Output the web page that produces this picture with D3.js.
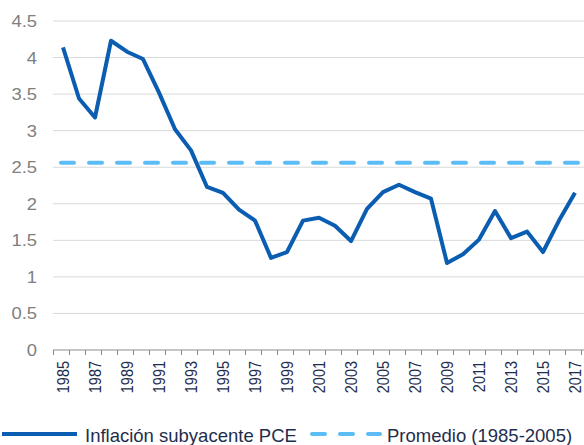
<!DOCTYPE html>
<html>
<head>
<meta charset="utf-8">
<script src="https://cdn.jsdelivr.net/npm/d3@7"></script>
<style>
  body { margin: 0; background: #fff; }
  svg { font-family: "Liberation Sans", Arial, sans-serif; }
</style>
</head>
<body>
<div id="chart"></div>
<script>
// data
const years = d3.range(1985, 2018);
const corePCE = [4.14, 3.44, 3.18, 4.23, 4.08, 3.98, 3.52, 3.02, 2.73, 2.23,
                 2.15, 1.92, 1.77, 1.26, 1.34, 1.77, 1.81, 1.70, 1.49, 1.93,
                 2.16, 2.26, 2.16, 2.07, 1.19, 1.31, 1.51, 1.90, 1.53, 1.62,
                 1.34, 1.77, 2.15];
const average = 2.56;
const yTicks = [0, 0.5, 1, 1.5, 2, 2.5, 3, 3.5, 4, 4.5];
const seriesNames = ["Inflación subyacente PCE", "Promedio (1985-2005)"];

const width = 584, height = 445;
const margin = { top: 21, right: 0, bottom: 95, left: 55 };

const svg = d3.select("#chart").append("svg")
    .attr("width", width)
    .attr("height", height);

const xScale = d3.scaleBand()
    .domain(years)
    .range([margin.left, width - 1]);

const yScale = d3.scaleLinear()
    .domain([0, 4.5])
    .range([height - margin.bottom, margin.top]);

// grid lines
svg.append("g")
    .selectAll("line")
    .data(yTicks.filter(d => d > 0))
    .enter()
    .append("line")
    .attr("x1", margin.left - 2)
    .attr("x2", width)
    .attr("y1", d => yScale(d))
    .attr("y2", d => yScale(d))
    .style("stroke", "#d9d9d9")
    .style("stroke-width", 1);

// y axis labels (the original is a bit stretched sideways)
svg.append("g")
    .selectAll("text")
    .data(yTicks)
    .enter()
    .append("text")
    .attr("transform", d => `translate(37,${yScale(d) + 6}) scale(1.15,1)`)
    .attr("text-anchor", "end")
    .style("font-size", "16px")
    .style("fill", "#7f7f7f")
    .text(d3.format("~g"));

// x axis: baseline and ticks at category boundaries
const xg = svg.append("g")
    .attr("transform", `translate(0,${yScale(0)})`);

xg.append("line")
    .attr("x1", margin.left - 2)
    .attr("x2", width)
    .style("stroke", "#8c8c8c")
    .style("stroke-width", 1);

xg.selectAll(".tk")
    .data(years.concat([years[years.length - 1] + 1]))
    .enter()
    .append("line")
    .attr("class", "tk")
    .attr("x1", (d, i) => Math.round(margin.left - 2 + i * xScale.bandwidth()) + 0.5)
    .attr("x2", (d, i) => Math.round(margin.left - 2 + i * xScale.bandwidth()) + 0.5)
    .attr("y1", 0)
    .attr("y2", 5)
    .style("stroke", "#8c8c8c");

xg.selectAll(".lbl")
    .data(years.filter(d => d % 2 === 1))
    .enter()
    .append("text")
    .attr("class", "lbl")
    .attr("transform", d => `translate(${xScale(d) + xScale.bandwidth() / 2 + 5.5},11) rotate(-90) scale(1,1.2)`)
    .attr("text-anchor", "end")
    .style("font-size", "14.5px")
    .style("fill", "#1f2d4d")
    .text(d => d);

// average line
svg.append("line")
    .attr("x1", margin.left + 6)
    .attr("x2", width)
    .attr("y1", yScale(average))
    .attr("y2", yScale(average))
    .style("stroke", "#5bbcf6")
    .style("stroke-width", 4)
    .style("stroke-linecap", "round")
    .style("stroke-dasharray", "13,15");

// main series
const line = d3.line()
    .x((d, i) => xScale(years[i]) + xScale.bandwidth() / 2)
    .y(d => yScale(d));

svg.append("path")
    .datum(corePCE)
    .attr("d", line)
    .style("fill", "none")
    .style("stroke", "#0a5db0")
    .style("stroke-width", 4)
    .style("stroke-linejoin", "round");

// legend
const legend = svg.append("g")
    .attr("transform", `translate(0,${height - 11})`);

legend.append("line")
    .attr("x1", 2).attr("x2", 77)
    .style("stroke", "#0a5db0")
    .style("stroke-width", 4);

legend.append("text")
    .attr("x", 85).attr("y", 8)
    .style("font-size", "18.5px")
    .style("fill", "#1f2d4d")
    .text(seriesNames[0]);

legend.append("line")
    .attr("x1", 312).attr("x2", 380)
    .style("stroke", "#5bbcf6")
    .style("stroke-width", 4)
    .style("stroke-linecap", "round")
    .style("stroke-dasharray", "13,15");

legend.append("text")
    .attr("x", 387).attr("y", 8)
    .style("font-size", "18.5px")
    .style("fill", "#1f2d4d")
    .text(seriesNames[1]);
</script>
</body>
</html>
